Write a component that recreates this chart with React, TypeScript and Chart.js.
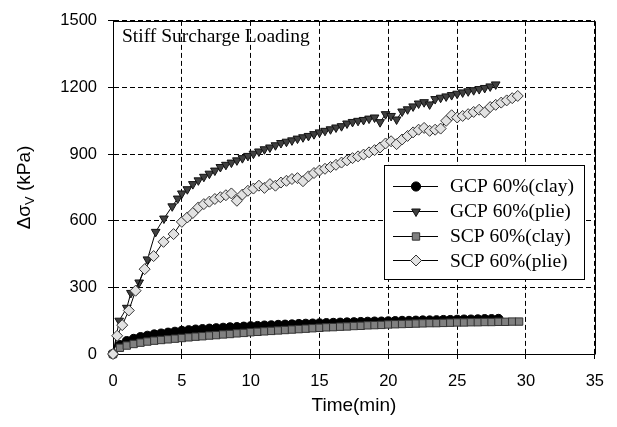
import React, { useEffect, useRef } from 'react';
import { Chart, registerables } from 'chart.js';

Chart.register(...registerables);

// ---------- data ----------
const SERIES_LABELS = ['GCP 60%(clay)', 'GCP 60%(plie)', 'SCP 60%(clay)', 'SCP 60%(plie)'];

// clay series (sampled every 0.5 min)
const T_GCP_CLAY = [
  0, 0.5, 1, 1.5, 2, 2.5, 3, 3.5, 4, 4.5, 5, 5.5, 6, 6.5, 7, 7.5, 8, 8.5, 9, 9.5,
  10, 10.5, 11, 11.5, 12, 12.5, 13, 13.5, 14, 14.5, 15, 15.5, 16, 16.5, 17, 17.5, 18, 18.5, 19, 19.5,
  20, 20.5, 21, 21.5, 22, 22.5, 23, 23.5, 24, 24.5, 25, 25.5, 26, 26.5, 27, 27.5, 28,
];
const GCP_CLAY = [
  0, 40, 58, 68, 76, 82, 88, 92, 96, 100, 104, 107, 110, 112, 114, 116, 118, 120, 121, 123,
  125, 126, 128, 129, 131, 132, 133, 135, 136, 137, 138, 139, 140, 141, 142, 143, 144, 145, 146, 146,
  147, 148, 149, 149, 150, 151, 151, 152, 153, 153, 154, 155, 155, 156, 157, 157, 158,
];
const T_SCP_CLAY = [
  0, 0.5, 1, 1.5, 2, 2.5, 3, 3.5, 4, 4.5, 5, 5.5, 6, 6.5, 7, 7.5, 8, 8.5, 9, 9.5,
  10, 10.5, 11, 11.5, 12, 12.5, 13, 13.5, 14, 14.5, 15, 15.5, 16, 16.5, 17, 17.5, 18, 18.5, 19, 19.5,
  20, 20.5, 21, 21.5, 22, 22.5, 23, 23.5, 24, 24.5, 25, 25.5, 26, 26.5, 27, 27.5, 28, 28.5, 29, 29.5,
];
const SCP_CLAY = [
  0, 28, 38, 45, 51, 56, 60, 63, 66, 69, 72, 75, 78, 80, 83, 85, 88, 90, 93, 95,
  98, 100, 102, 104, 106, 108, 110, 112, 114, 116, 118, 120, 121, 123, 124, 126, 127, 129, 130, 131,
  133, 134, 135, 136, 137, 138, 139, 139, 140, 141, 142, 142, 143, 143, 144, 144, 145, 145, 146, 146,
];

// plie series
const T_GCP_PLIE = [
  0, 0.45, 1.0, 1.3, 1.9, 2.5, 3.1, 3.7, 4.3, 4.7, 5.0,
  5.4, 5.8, 6.2, 6.6, 7.0, 7.4, 7.8, 8.2, 8.6, 9.0, 9.4, 9.8, 10.2, 10.6, 11.0,
  11.4, 11.8, 12.2, 12.6, 13.0, 13.4, 13.8, 14.2, 14.6, 15.0, 15.4, 15.8, 16.2, 16.6, 17.0,
  17.4, 17.8, 18.2, 18.6, 19.0, 19.4, 19.8, 20.2, 20.6, 21.0, 21.4, 21.8, 22.2, 22.6, 23.0,
  23.4, 23.8, 24.2, 24.6, 25.0, 25.4, 25.8, 26.2, 26.6, 27.0, 27.4, 27.8,
];
const GCP_PLIE = [
  0, 150, 208, 275, 322, 426, 550, 610, 665, 700, 723,
  742, 765, 782, 798, 812, 826, 842, 852, 862, 872, 882, 892, 902, 912, 922,
  930, 940, 950, 956, 962, 970, 976, 982, 990, 998, 1005, 1012, 1020, 1026, 1038,
  1045, 1050, 1054, 1060, 1065, 1044, 1080, 1072, 1056, 1092, 1102, 1115, 1128, 1134, 1124,
  1148, 1154, 1160, 1166, 1172, 1178, 1183, 1188, 1193, 1198, 1205, 1214,
];
const T_SCP_PLIE = [
  0, 0.3, 0.67, 1.15, 1.64, 2.3, 2.95, 3.67, 4.4, 5.0,
  5.4, 5.8, 6.2, 6.6, 7.0, 7.4, 7.8, 8.2, 8.6, 9.0, 9.4, 9.8, 10.2, 10.6, 11.0,
  11.4, 11.8, 12.2, 12.6, 13.0, 13.4, 13.8, 14.2, 14.6, 15.0, 15.4, 15.8, 16.2, 16.6, 17.0,
  17.4, 17.8, 18.2, 18.6, 19.0, 19.4, 19.8, 20.2, 20.6, 21.0, 21.4, 21.8, 22.2, 22.6, 23.0,
  23.4, 23.8, 24.2, 24.6, 25.0, 25.4, 25.8, 26.2, 26.6, 27.0, 27.4, 27.8, 28.2, 28.6, 29.0, 29.4,
];
const SCP_PLIE = [
  0, 82, 130, 196, 285, 382, 441, 505, 540, 595,
  615, 635, 660, 675, 686, 698, 706, 715, 723, 690, 718, 735, 745, 758, 748,
  765, 758, 772, 780, 788, 792, 778, 800, 815, 826, 834, 842, 852, 862, 872,
  882, 890, 898, 908, 918, 930, 948, 958, 945, 966, 982, 998, 1010, 1018, 1005,
  1010, 1015, 1050, 1075, 1065, 1072, 1080, 1090, 1100, 1088, 1112, 1122, 1132, 1142, 1152, 1162,
];

const X_MIN = 0;
const X_MAX = 35;
const X_STEP = 5;
const Y_MIN = 0;
const Y_MAX = 1500;
const Y_STEP = 300;

const X_TITLE = 'Time(min)';
const Y_TITLE_MAIN = 'Δσ';
const Y_TITLE_SUB = 'V';
const Y_TITLE_UNIT = ' (kPa)';
const NOTE = 'Stiff Surcharge Loading';

// ---------- styles ----------
const SANS = "'Liberation Sans', Arial, sans-serif";
const SERIF = "'Liberation Serif', 'Times New Roman', serif";

type Mk = { style: string; r: number; fill: string; stroke: string; rot: number };
const MARKERS: Mk[] = [
  { style: 'circle', r: 4.6, fill: '#000000', stroke: '#000000', rot: 0 },
  { style: 'triangle', r: 5, fill: '#404040', stroke: '#111111', rot: 180 },
  { style: 'rect', r: 5.2, fill: '#808080', stroke: '#333333', rot: 0 },
  { style: 'rectRot', r: 5.5, fill: '#e2e2e2', stroke: '#333333', rot: 0 },
];

function drawMarker(ctx: CanvasRenderingContext2D, m: Mk, x: number, y: number) {
  ctx.save();
  ctx.beginPath();
  const r = m.r;
  if (m.style === 'circle') {
    ctx.arc(x, y, r, 0, Math.PI * 2);
  } else if (m.style === 'triangle') {
    let rad = (m.rot * Math.PI) / 180;
    ctx.moveTo(x + Math.sin(rad) * r, y - Math.cos(rad) * r);
    rad += (2 * Math.PI) / 3;
    ctx.lineTo(x + Math.sin(rad) * r, y - Math.cos(rad) * r);
    rad += (2 * Math.PI) / 3;
    ctx.lineTo(x + Math.sin(rad) * r, y - Math.cos(rad) * r);
  } else if (m.style === 'rect') {
    const s = Math.SQRT1_2 * r;
    ctx.rect(x - s, y - s, 2 * s, 2 * s);
  } else {
    ctx.moveTo(x - r, y);
    ctx.lineTo(x, y - r);
    ctx.lineTo(x + r, y);
    ctx.lineTo(x, y + r);
  }
  ctx.closePath();
  ctx.fillStyle = m.fill;
  ctx.strokeStyle = m.stroke;
  ctx.lineWidth = 1;
  ctx.fill();
  ctx.stroke();
  ctx.restore();
}

const overlayPlugin = {
  id: 'overlay',
  beforeDatasetsDraw(chart: any) {
    const { ctx, chartArea: a } = chart;
    ctx.save();
    ctx.strokeStyle = '#000';
    ctx.lineWidth = 1;
    const l = Math.round(a.left) + 0.5;
    const t = Math.round(a.top) + 0.5;
    const rr = Math.round(a.right) + 0.5;
    const b = Math.round(a.bottom) + 0.5;
    ctx.beginPath();
    ctx.moveTo(l, t);
    ctx.lineTo(rr, t);
    ctx.lineTo(rr, b);
    ctx.stroke();
    ctx.restore();
  },
  afterDraw(chart: any) {
    const { ctx, chartArea: a } = chart;
    ctx.save();
    // note
    ctx.fillStyle = '#000';
    ctx.font = `19.5px ${SERIF}`;
    ctx.textAlign = 'left';
    ctx.textBaseline = 'alphabetic';
    ctx.fillText(NOTE, a.left + 9, 42);

    // legend
    const bx = 384.5, by = 165.5, bw = 200, bh = 114;
    ctx.fillStyle = '#fff';
    ctx.fillRect(bx, by, bw, bh);
    ctx.strokeStyle = '#000';
    ctx.lineWidth = 1;
    ctx.strokeRect(bx, by, bw, bh);
    ctx.font = `19.5px ${SERIF}`;
    ctx.textBaseline = 'middle';
    for (let i = 0; i < SERIES_LABELS.length; i++) {
      const y = 186 + i * 24.8;
      ctx.beginPath();
      ctx.strokeStyle = '#000';
      ctx.moveTo(393, Math.round(y) + 0.5);
      ctx.lineTo(438, Math.round(y) + 0.5);
      ctx.stroke();
      drawMarker(ctx, MARKERS[i], 416, Math.round(y) + 0.5);
      ctx.fillStyle = '#000';
      ctx.fillText(SERIES_LABELS[i], 450, y + 1);
    }

    // x title
    ctx.font = `19px ${SANS}`;
    ctx.textAlign = 'center';
    ctx.textBaseline = 'alphabetic';
    ctx.fillText(X_TITLE, (a.left + a.right) / 2, 411);

    // y title (rotated, with subscript)
    ctx.translate(25, (a.top + a.bottom) / 2);
    ctx.rotate(-Math.PI / 2);
    ctx.textAlign = 'left';
    ctx.textBaseline = 'middle';
    const big = `19px ${SANS}`;
    const small = `13px ${SANS}`;
    ctx.font = big;
    const w1 = ctx.measureText(Y_TITLE_MAIN).width;
    const w3 = ctx.measureText(Y_TITLE_UNIT).width;
    ctx.font = small;
    const w2 = ctx.measureText(Y_TITLE_SUB).width;
    let x0 = -(w1 + w2 + w3) / 2;
    ctx.font = big;
    ctx.fillText(Y_TITLE_MAIN, x0, 0);
    x0 += w1;
    ctx.font = small;
    ctx.fillText(Y_TITLE_SUB, x0, 5);
    x0 += w2;
    ctx.font = big;
    ctx.fillText(Y_TITLE_UNIT, x0, 0);
    ctx.restore();
  },
};

function pts(ts: number[], vs: number[]) {
  return vs.map((v, i) => ({ x: ts[i], y: v }));
}

export default function App() {
  const ref = useRef<HTMLCanvasElement | null>(null);
  useEffect(() => {
    if (!ref.current) return;
    const seriesData = [
      pts(T_GCP_CLAY, GCP_CLAY),
      pts(T_GCP_PLIE, GCP_PLIE),
      pts(T_SCP_CLAY, SCP_CLAY),
      pts(T_SCP_PLIE, SCP_PLIE),
    ];
    const chart = new Chart(ref.current, {
      type: 'scatter',
      data: {
        datasets: seriesData.map((d, i) => ({
          label: SERIES_LABELS[i],
          data: d,
          showLine: true,
          borderColor: '#000',
          borderWidth: 1,
          pointStyle: MARKERS[i].style as any,
          pointRadius: MARKERS[i].r,
          pointRotation: MARKERS[i].rot,
          pointBackgroundColor: MARKERS[i].fill,
          pointBorderColor: MARKERS[i].stroke,
          pointBorderWidth: 1,
          pointHoverRadius: MARKERS[i].r,
          clip: false as any,
          order: 4 - i,
        })),
      },
      options: {
        animation: false,
        responsive: false,
        devicePixelRatio: 1,
        events: [],
        layout: { padding: { top: 17, right: 20, left: 0, bottom: 0 } },
        plugins: { legend: { display: false }, tooltip: { enabled: false }, title: { display: false } },
        scales: {
          x: {
            type: 'linear',
            min: X_MIN,
            max: X_MAX,
            ticks: {
              stepSize: X_STEP, color: '#000', font: { family: SANS, size: 16.5 }, padding: 13, maxRotation: 0,
              callback: (v: any) => String(v),
            },
            grid: { color: '#000', lineWidth: 1, drawTicks: true, tickLength: 5, tickColor: '#000', tickBorderDash: [] as any },
            border: { display: true, color: '#000', width: 1, dash: [5, 3] },
            afterFit: (s: any) => { s.height = 73; },
          },
          y: {
            type: 'linear',
            min: Y_MIN,
            max: Y_MAX,
            ticks: {
              stepSize: Y_STEP, color: '#000', font: { family: SANS, size: 16.5 }, padding: 11,
              callback: (v: any) => String(v),
            },
            grid: { color: '#000', lineWidth: 1, drawTicks: true, tickLength: 5, tickColor: '#000', tickBorderDash: [] as any },
            border: { display: true, color: '#000', width: 1, dash: [5, 3] },
            afterFit: (s: any) => { s.width = 113; },
          },
        },
      } as any,
      plugins: [overlayPlugin],
    });
    return () => chart.destroy();
  }, []);
  return (
    <div style={{ position: 'absolute', left: 0, top: 0, width: 617, height: 427, background: '#fff' }}>
      <canvas ref={ref} width={617} height={427} style={{ width: 617, height: 427, display: 'block' }} />
    </div>
  );
}
